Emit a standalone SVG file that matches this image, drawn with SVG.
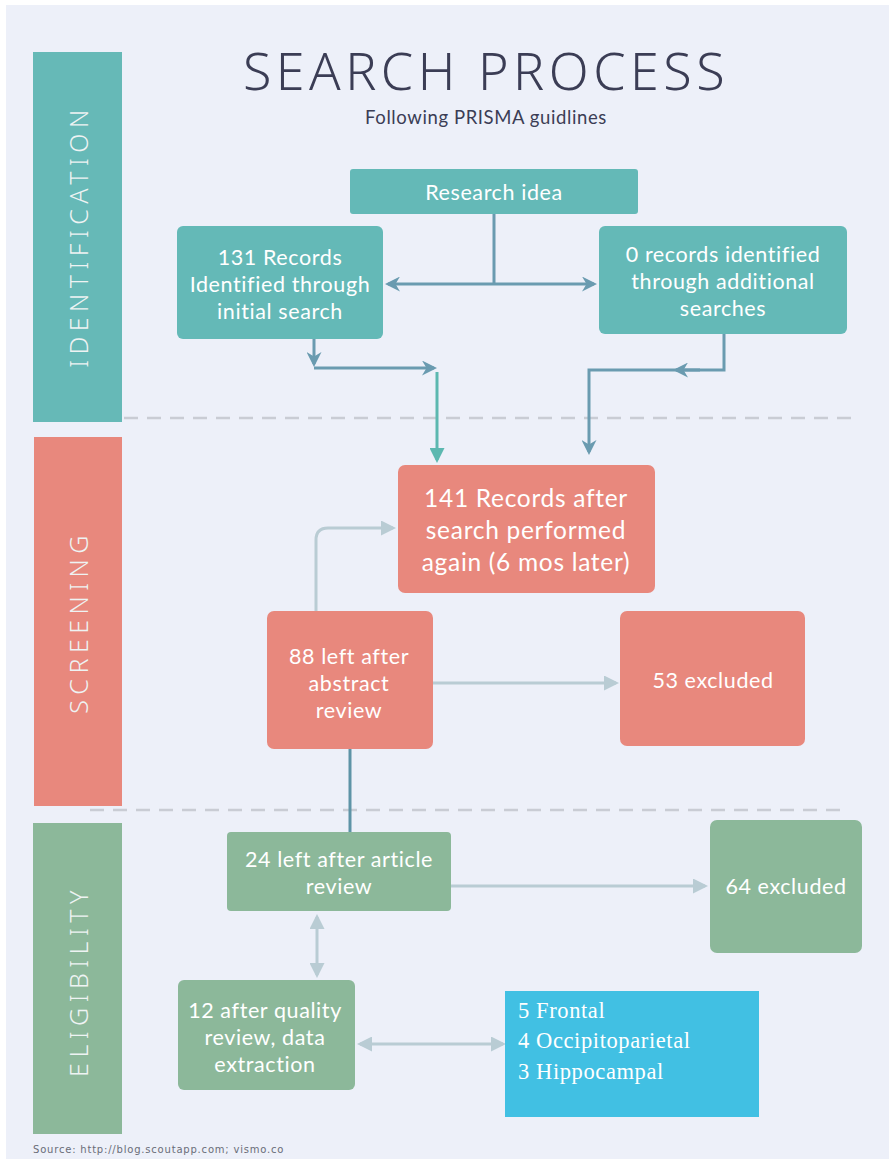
<svg xmlns="http://www.w3.org/2000/svg" width="893" height="1161" viewBox="0 0 893 1161">
<defs>
<style>
.bt{font-family:Lato,"Liberation Sans",sans-serif;fill:#ffffff;text-anchor:middle;font-size:21.5px;letter-spacing:0.6px}
.big{font-size:24.5px;letter-spacing:0.7px}
.side{font-family:"Noto Sans","Liberation Sans",sans-serif;font-weight:300;fill:#eef3f3;text-anchor:middle;font-size:25px;letter-spacing:5.5px}
.dk{stroke:#6a9bb0;stroke-width:3;fill:none}
.lt{stroke:#b9ccd4;stroke-width:3;fill:none}
.dash{stroke:#c9ccd4;stroke-width:2.5;stroke-dasharray:14 9;fill:none}
</style>
<marker id="ad" viewBox="0 0 10 10" refX="8" refY="5" markerWidth="5" markerHeight="5" orient="auto-start-reverse"><path d="M0,0 L10,5 L0,10 L3,5 z" fill="#6a9bb0"/></marker>
<marker id="at" viewBox="0 0 10 10" refX="8" refY="5" markerWidth="5" markerHeight="5" orient="auto-start-reverse"><path d="M0,0 L10,5 L0,10 z" fill="#5cb8b0"/></marker>
<marker id="al" viewBox="0 0 10 10" refX="8" refY="5" markerWidth="5" markerHeight="5" orient="auto-start-reverse"><path d="M0,0 L10,5 L0,10 z" fill="#b9ccd4"/></marker>
</defs>
<rect x="0" y="0" width="893" height="1161" fill="#ffffff"/>
<rect x="6" y="5" width="883" height="1154" fill="#edf0f9"/>

<g id="title">
<text x="486" y="90" font-family="'Noto Sans','Liberation Sans',sans-serif" font-weight="300" font-size="52" fill="#3b3d55" text-anchor="middle" letter-spacing="4.5">SEARCH PROCESS</text>
<text x="486" y="124" font-family="Lato,'Liberation Sans',sans-serif" font-size="18.5" fill="#3b3d55" text-anchor="middle" letter-spacing="0.6">Following PRISMA guidlines</text>
</g>

<g id="lane-identification">
<rect x="33" y="52" width="89" height="370" fill="#66b9b7"/>
<text class="side" transform="translate(88,236) rotate(-90)">IDENTIFICATION</text>
</g>
<g id="lane-screening">
<rect x="34" y="437" width="88" height="369" fill="#e8887d"/>
<text class="side" transform="translate(88,622) rotate(-90)">SCREENING</text>
</g>
<g id="lane-eligibility">
<rect x="33" y="823" width="89" height="311" fill="#8cb89a"/>
<text class="side" transform="translate(88,981) rotate(-90)">ELIGIBILITY</text>
</g>

<g id="dividers">
<line class="dash" x1="124" y1="418" x2="856" y2="418"/>
<line class="dash" x1="90" y1="810" x2="846" y2="810"/>
</g>

<g id="connectors">
<path class="dk" d="M494,214 V284"/>
<path class="dk" d="M388,284 H594" marker-start="url(#ad)" marker-end="url(#ad)"/>
<path class="dk" d="M314,339 V364" marker-end="url(#ad)"/>
<path class="dk" d="M314,368 H434" marker-end="url(#ad)"/>
<path d="M437,372 V460" stroke="#5cb8b0" stroke-width="3" fill="none" marker-end="url(#at)"/>
<path class="dk" d="M724,334 V370 H589 V452" marker-end="url(#ad)"/>
<path class="dk" d="M700,370 H676" marker-end="url(#ad)"/>
<path class="lt" d="M316,611 V540 Q316,528 328,528 H393" marker-end="url(#al)"/>
<path class="lt" d="M433,683 H616" marker-end="url(#al)"/>
<path d="M350,749 V832" stroke="#5e94a7" stroke-width="3" fill="none"/>
<path class="lt" d="M451,886 H705" marker-end="url(#al)"/>
<path class="lt" d="M317,917 V975" marker-start="url(#al)" marker-end="url(#al)"/>
<path class="lt" d="M360,1044 H503" marker-start="url(#al)" marker-end="url(#al)"/>
</g>

<g id="research-idea">
<rect x="350" y="169" width="288" height="45" rx="3" fill="#64b9b7"/>
<text class="bt" x="494" y="200">Research idea</text>
</g>
<g id="records-131">
<rect x="177" y="226" width="206" height="113" rx="6" fill="#64b9b7"/>
<text class="bt" x="280" y="265">131 Records</text>
<text class="bt" x="280" y="292">Identified through</text>
<text class="bt" x="280" y="319">initial search</text>
</g>
<g id="records-0">
<rect x="599" y="226" width="248" height="108" rx="6" fill="#64b9b7"/>
<text class="bt" x="723" y="262">0 records identified</text>
<text class="bt" x="723" y="289">through additional</text>
<text class="bt" x="723" y="316">searches</text>
</g>
<g id="records-141">
<rect x="398" y="465" width="257" height="128" rx="7" fill="#e8887d"/>
<text class="bt big" x="526" y="507">141 Records after</text>
<text class="bt big" x="526" y="539">search performed</text>
<text class="bt big" x="526" y="571">again (6 mos later)</text>
</g>
<g id="left-88">
<rect x="267" y="611" width="166" height="138" rx="7" fill="#e8887d"/>
<text class="bt" x="349" y="664">88 left after</text>
<text class="bt" x="349" y="691">abstract</text>
<text class="bt" x="349" y="718">review</text>
</g>
<g id="excluded-53">
<rect x="620" y="611" width="185" height="135" rx="7" fill="#e8887d"/>
<text class="bt" x="713" y="688">53 excluded</text>
</g>
<g id="left-24">
<rect x="227" y="832" width="224" height="79" rx="4" fill="#8cb89a"/>
<text class="bt" x="339" y="867">24 left after article</text>
<text class="bt" x="339" y="894">review</text>
</g>
<g id="excluded-64">
<rect x="710" y="820" width="152" height="133" rx="7" fill="#8cb89a"/>
<text class="bt" x="786" y="894">64 excluded</text>
</g>
<g id="after-12">
<rect x="178" y="980" width="177" height="110" rx="6" fill="#8cb89a"/>
<text class="bt" x="265" y="1018">12 after quality</text>
<text class="bt" x="265" y="1045">review, data</text>
<text class="bt" x="265" y="1072">extraction</text>
</g>
<g id="regions">
<rect x="505" y="991" width="254" height="126" fill="#41c0e3"/>
<g font-family="'Liberation Serif',serif" font-size="22.5" fill="#ffffff" letter-spacing="0.6">
<text x="518" y="1018">5 Frontal</text>
<text x="518" y="1048">4 Occipitoparietal</text>
<text x="518" y="1079">3 Hippocampal</text>
</g>
</g>
<text x="33" y="1153" font-family="'DejaVu Sans',sans-serif" font-size="10" fill="#6a6d78" letter-spacing="0.8">Source: http://blog.scoutapp.com; vismo.co</text>
</svg>
